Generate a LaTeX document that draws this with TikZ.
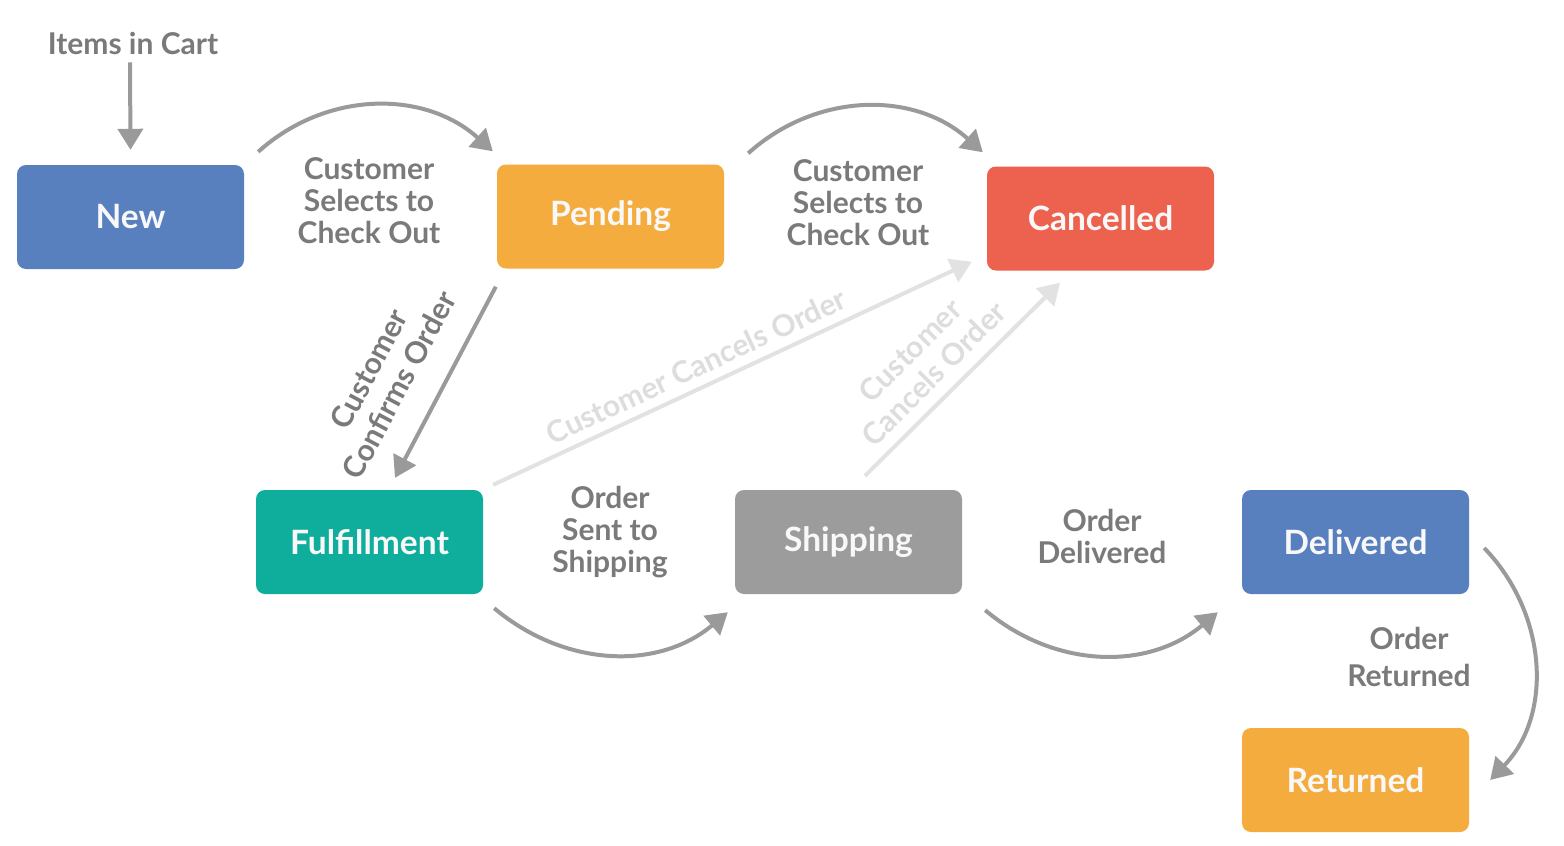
\documentclass[tikz,border=0pt]{standalone}
\usepackage{fontspec}
\setmainfont{Lato}
\usetikzlibrary{arrows.meta}
\definecolor{cblue}{HTML}{587FBE}
\definecolor{corange}{HTML}{F4AC3E}
\definecolor{cred}{HTML}{EC624F}
\definecolor{cteal}{HTML}{0FAE9C}
\definecolor{cgrey}{HTML}{9C9C9C}
\definecolor{arrgrey}{HTML}{9A9A9A}
\definecolor{txtgrey}{HTML}{7A7A7A}
\definecolor{faint}{HTML}{E2E2E2}
\definecolor{fainttxt}{HTML}{DDDDDD}
\definecolor{boxtxt}{HTML}{F8F8F8}
\begin{document}
\begin{tikzpicture}[x=1pt,y=1pt,
  state/.style={rounded corners=9pt, minimum width=227pt, minimum height=104pt, inner sep=0pt,
    text=boxtxt, font=\fontsize{33.5}{36}\selectfont\bfseries},
  lbl/.style={text=txtgrey, align=center, inner sep=0pt, font=\fontsize{30}{32}\selectfont\bfseries},
  flbl/.style={lbl, text=fainttxt},
  arr/.style={draw=arrgrey, line width=4pt, -{Triangle[length=21pt,width=25pt]}},
  farr/.style={draw=faint, line width=4pt, -{Triangle[length=21pt,width=25pt]}}
]
\fill[white] (0,0) rectangle (1564,-846);
\useasboundingbox (0,0) rectangle (1564,-846);

% states
\node[state, fill=cblue]   (new)  at (130.5,-217)  {New};
\node[state, fill=corange] (pend) at (610.5,-216.5) {Pending};
\node[state, fill=cred]    (canc) at (1100.5,-218.5) {Cancelled};
\node[state, fill=cteal]   (fulf) at (369.5,-542) {Fulfillment};
\node[state, fill=cgrey]   (ship) at (848.5,-542) {Shipping};
\node[state, fill=cblue]   (deli) at (1355.5,-542) {Delivered};
\node[state, fill=corange] (ret)  at (1355.5,-780) {Returned};

% labels
\node[lbl] (items) at (133,-43) {Items in Cart};
\node[lbl] (l1) at (369,-201) {Customer\\Selects to\\Check Out};
\node[lbl] (l2) at (858,-203) {Customer\\Selects to\\Check Out};
\node[lbl] (l3) at (610,-532) {Order\\Sent to\\Shipping};
\node[lbl] (l4) at (1102,-536) {Order\\Delivered};
\node[lbl, font=\fontsize{30}{37}\selectfont\bfseries] (l5) at (1409,-657) {Order\\Returned};
\node[lbl, rotate=62, font=\fontsize{30}{34}\selectfont\bfseries] (l6) at (384,-377) {Customer\\Confirms Order};
\node[flbl, rotate=25] (l7) at (696,-366) {Customer Cancels Order};
\node[flbl, rotate=45, font=\fontsize{30}{33}\selectfont\bfseries] (l8) at (922,-362) {Customer\\Cancels Order};

% connectors
\draw[arr] ([xshift=-3pt,yshift=-8pt]items.south) -- ([yshift=15pt]new.north);
\draw[arr] ([shift={(14,13)}]new.north east) to[out=42,in=138] ([shift={(-4,13)}]pend.north west);
\draw[arr] ([shift={(24,11)}]pend.north east) to[out=42,in=138] ([shift={(-4,14)}]canc.north west);
\draw[arr] ([shift={(-1,-18)}]pend.south west) -- ([shift={(25.5,12)}]fulf.north);
\draw[farr] ([shift={(10,5)}]fulf.north east) -- ([shift={(-15,9)}]canc.south west);
\draw[farr] ([shift={(16.5,14)}]ship.north) -- ([shift={(-40.5,-12)}]canc.south);
\draw[arr] ([shift={(11,-14)}]fulf.south east) to[out=-40,in=-140] ([shift={(-7,-18)}]ship.south west);
\draw[arr] ([shift={(23,-16)}]ship.south east) to[out=-40,in=-140] ([shift={(-24,-18)}]deli.south west);
\draw[arr] ([shift={(15,-6)}]deli.east) to[out=-46,in=46] ([shift={(21,0)}]ret.east);
\end{tikzpicture}
\end{document}
